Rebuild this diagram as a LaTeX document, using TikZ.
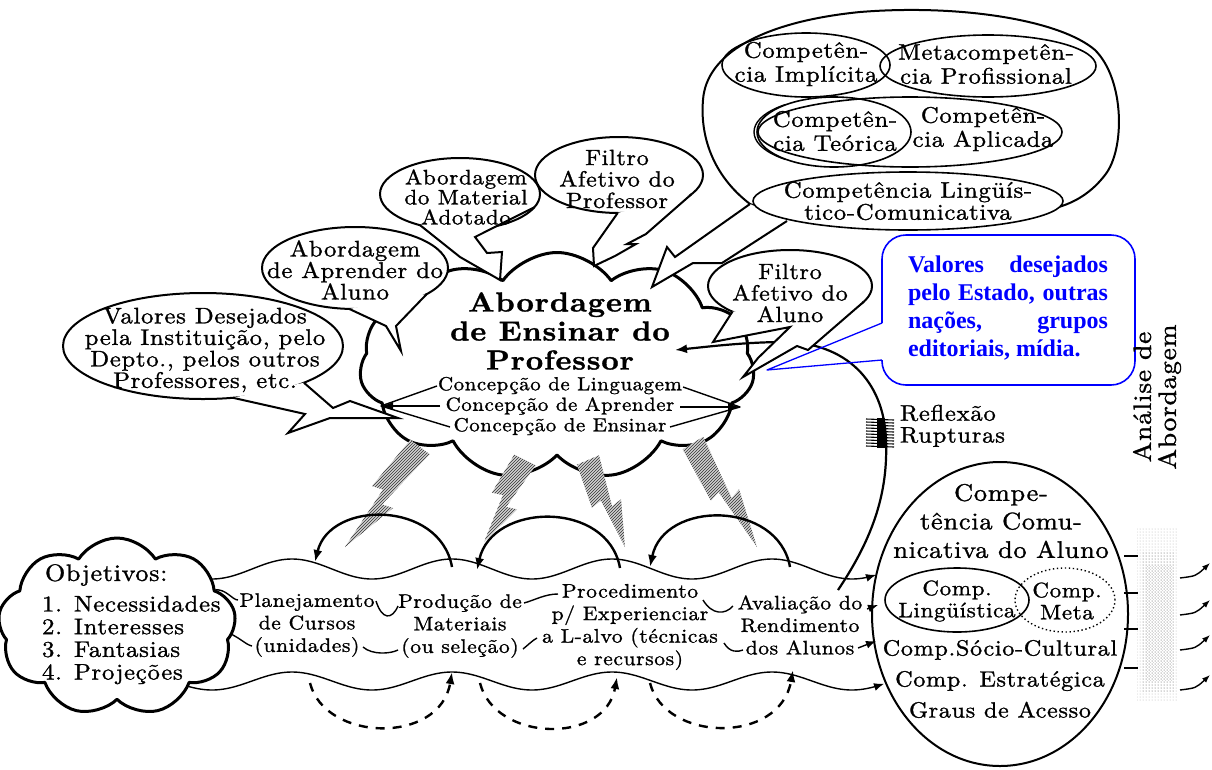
\documentclass[tikz,border=0pt]{standalone}
\usepackage{fontspec}
\newfontfamily\tnr{Liberation Serif}
\newfontfamily\lmw{lmroman10-regular.otf}[BoldFont=lmroman10-bold.otf, LetterSpace=3, FakeStretch=1.1, FakeBold=1.2]
\usetikzlibrary{shapes.symbols,shapes.geometric,patterns,calc,arrows.meta}
\newcommand\fsz[2]{\lmw\fontsize{#1}{#2}\selectfont}
\tikzset{
  every node/.style={inner sep=0pt, outer sep=0pt},
  bub/.style={ellipse, draw, line width=2pt, fill=white},
  inel/.style={ellipse, draw, line width=1.6pt},
  tl/.style={line width=2pt, line join=miter},
  txt/.style={align=center, font=\fsz{22}{21.5}},
  btxt/.style={align=center, font=\fsz{19.6}{22.5}},
  wave/.style={line width=1.4pt},
  solidarc/.style={line width=2.4pt, -{Latex[length=12pt,width=9pt]}},
  dasharc/.style={line width=2.4pt, dash pattern=on 9pt off 8pt, -{Latex[length=12pt,width=9pt]}},
  warr/.style={-{Latex[length=10pt,width=8pt]}},
  boltfill/.style={fill=gray!35},
  bolthatch/.style={pattern=north east lines, pattern color=black!80},
}
\newcommand\hbolt[2]{%
  \fill[boltfill] ($(#1)!12pt!90:(#2)$) -- ($(#1)!0.55!(#2)!4pt!90:(#2)$) -- ($(#1)!0.52!(#2)!15pt!90:(#2)$) -- (#2) -- ($(#1)!0.45!(#2)!4pt!-90:(#2)$) -- ($(#1)!0.48!(#2)!15pt!-90:(#2)$) -- ($(#1)!12pt!-90:(#2)$) -- cycle;
  \fill[bolthatch] ($(#1)!12pt!90:(#2)$) -- ($(#1)!0.55!(#2)!4pt!90:(#2)$) -- ($(#1)!0.52!(#2)!15pt!90:(#2)$) -- (#2) -- ($(#1)!0.45!(#2)!4pt!-90:(#2)$) -- ($(#1)!0.48!(#2)!15pt!-90:(#2)$) -- ($(#1)!12pt!-90:(#2)$) -- cycle;}
\begin{document}
\begin{tikzpicture}[x=1pt,y=-1pt,line join=round]
\useasboundingbox (0,0) rectangle (1212,769);

% ---------- right ellipse (communicative competence)
\node[ellipse, draw, line width=2pt, fill=white, minimum width=256, minimum height=304] (comp) at (1000,614) {};
\node[inel, minimum width=144, minimum height=64] (ling) at (957,600) {};
\node[ellipse, draw, line width=1.4pt, dash pattern=on 1.4pt off 2.6pt, minimum width=100, minimum height=64] (meta) at (1065,600) {};

% stippled bar and outgoing arrows
\fill[pattern=dots, pattern color=gray!60] (1137,527) rectangle (1178,700);
\fill[pattern=dots, pattern color=gray!90] (1141,552) rectangle (1175,692);
\fill[pattern=crosshatch dots, pattern color=gray!40] (1145,565) rectangle (1172,680);
\foreach \ya/\yb in {556/556,593/593,629/629,668/668}
  \draw[line width=1.2pt] (1124,\ya) -- (1138,\yb);
\foreach \ya/\yb in {578/563,615/600,650/635,690/675}
  \draw[line width=1.4pt, -{Latex[length=8pt,width=6pt]}] (1180,\ya) .. controls (1196,{\ya-2}) .. (1210,\yb);
\draw[line width=1.2pt] (1135,348) -- (1141,348);

% ---------- wavy band
\draw[wave, warr] plot[domain=150:876, samples=160, smooth] (\x,{569-10*cos(2.25*(\x-452))});
\draw[wave, warr] plot[domain=150:884, samples=160, smooth] (\x,{681-9*cos(2.25*(\x-452))});
% middle connectors
\draw[wave] (214,590) .. controls (226,588) and (232,600) .. (238,600);
\draw[wave] (376,601) .. controls (382,620) and (392,620) .. (398,606);
\draw[wave] (524,603) .. controls (535,600) and (545,594) .. (558,594);
\draw[wave] (703,600) .. controls (712,615) and (725,615) .. (733,606);
\draw[wave, warr] (867,609) -- (878,605);
\draw[wave] (226,632) .. controls (238,636) and (246,645) .. (252,646);
\draw[wave] (363,647) .. controls (372,655) and (390,654) .. (398,650);
\draw[wave] (523,649) .. controls (528,645) and (533,640) .. (537,638);
\draw[wave] (724,643) .. controls (730,653) and (738,652) .. (743,650);
\draw[wave, warr] (858,648) -- (876,641);

% ---------- main cloud
\node[cloud, cloud puffs=11, cloud puff arc=110, cloud ignores aspect, draw, line width=3pt, fill=white, minimum width=395, minimum height=227] (prof) at (557,366) {};

% hatched bolts from the cloud to the band
\coordinate (b1a) at (420,447); \coordinate (b1b) at (345,547);
\coordinate (b2a) at (525,460); \coordinate (b2b) at (484,542);
\coordinate (b3a) at (588,460); \coordinate (b3b) at (625,547);
\coordinate (b4a) at (693,443); \coordinate (b4b) at (757,547);
\hbolt{b1a}{b1b}\hbolt{b2a}{b2b}\hbolt{b3a}{b3b}\hbolt{b4a}{b4b}

% solid arcs above the band
\draw[solidarc] (452,567) .. controls (440,500) and (330,500) .. (315,562);
\draw[solidarc] (620,568) .. controls (608,500) and (492,502) .. (477,570);
\draw[solidarc] (790,567) .. controls (778,500) and (664,500) .. (650,567);
% dashed arcs below the band
\draw[dasharc] (310,683) .. controls (325,742) and (440,745) .. (452,672);
\draw[dasharc] (480,683) .. controls (495,742) and (605,745) .. (617,677);
\draw[dasharc] (650,683) .. controls (665,742) and (780,745) .. (793,670);

% ---------- objectives cloud
\node[cloud, cloud puffs=9, cloud puff arc=115, cloud ignores aspect, draw, line width=3pt, fill=white, minimum width=238, minimum height=178] (obj) at (117,627) {};

% ---------- feedback arc from evaluation back to the cloud
\draw[line width=2.2pt, -{Latex[length=12pt,width=9pt]}] (838,590) .. controls (875,535) and (888,490) .. (886,440) .. controls (884,380) and (845,343) .. (785,342) .. controls (745,342) and (705,347) .. (675,350);
\fill (877,418) rectangle (885,448);
\foreach \yy in {419,422,...,446} \draw[line width=1.1pt] (866,\yy) -- (894,{\yy+1});

% ---------- competence blob (top right)
\draw[line width=2pt, fill=white] (750,204) .. controls (712,175) and (700,135) .. (703,100) .. controls (706,55) and (760,22) .. (860,12) .. controls (960,4) and (1060,20) .. (1095,50) .. controls (1125,80) and (1125,150) .. (1105,175) .. controls (1092,192) and (1075,203) .. (1055,208) -- (900,222) -- (780,214) -- cycle;
\fill[white] (750,204) -- (675,257) -- (667,247) -- (652,287) -- (693,263) -- (722,263) -- (787,221) -- cycle;
\draw[tl] (750,204) -- (675,257) -- (667,247) -- (652,287) -- (693,263) -- (722,263) -- (787,221);
\node[inel, minimum width=168, minimum height=64] (imp) at (806,65) {};
\node[inel, minimum width=216, minimum height=62] (mtc) at (988,66) {};
\node[inel, minimum width=304, minimum height=70] (apl) at (910,132) {};
\node[inel, minimum width=154, minimum height=70] (teo) at (834,132) {};
\begin{scope}
  \clip (740,100) rectangle (785,165);
  \draw[line width=1.4pt] (831,132) ellipse [x radius=77, y radius=34];
\end{scope}
\node[inel, fill=white, minimum width=310, minimum height=58] (lco) at (908,201) {};

% ---------- callout bubbles
\node[bub, minimum width=280, minimum height=106] (V) at (203,346) {};
\fill[white] (V.340) -- (333,408) -- (350,401) -- (398,418) -- (330,418) -- (288,433) -- (305,414) -- (V.300) -- cycle;
\draw[tl] (V.340) -- (333,408) -- (350,401) -- (398,418) -- (330,418) -- (288,433) -- (305,414) -- (V.300);

\node[bub, minimum width=186, minimum height=82] (B) at (355,268) {};
\fill[white] (B.262) -- (386,326) -- (401,351) -- (396,326) -- (B.340) -- cycle;
\draw[tl] (B.262) -- (386,326) -- (401,351) -- (396,326) -- (B.340);

\node[bub, minimum width=160, minimum height=72] (M) at (460,194) {};
\fill[white] (M.350) -- (475,237) -- (487,253) -- (502,252) -- (500,280) -- (460,257) -- (M.218) -- cycle;
\draw[tl] (M.350) -- (475,237) -- (487,253) -- (502,252) -- (500,280) -- (460,257) -- (M.218);

\node[bub, minimum width=168, minimum height=76] (F) at (619,175) {};
\fill[white] (F.268) -- (593,248) -- (594,266) -- (615,256) -- (636,244) -- (627,244) -- (646,234) -- (F.345) -- cycle;
\draw[tl] (F.268) -- (593,248) -- (594,266) -- (615,256) -- (636,244) -- (627,244) -- (646,234) -- (F.345);

\node[bub, minimum width=164, minimum height=72] (G) at (790,286) {};
\fill[white] (G.204) -- (713,342) -- (790,327) -- (758,358) -- (743,377) -- (797,346) -- (808,350) -- (G.348) -- cycle;
\draw[tl] (G.204) -- (713,342) -- (790,327) -- (758,358) -- (743,377) -- (797,346) -- (808,350) -- (G.348);

% ---------- conception arrows inside the cloud
\draw[line width=1.4pt] (437,386) -- (381,406) -- (450,427);
\draw[line width=1.4pt, -{Latex[length=12pt,width=8pt]}] (440,406) -- (381,406);
\draw[line width=1.4pt] (683,387) -- (740,407) -- (670,427);
\draw[line width=1.4pt, -{Latex[length=12pt,width=8pt]}] (680,407) -- (740,407);

% ---------- blue callout box
\draw[blue, line width=1.6pt, rounded corners=24pt] (882,360) -- (882,385) -- (1135,385) -- (1135,235) -- (882,235) -- (882,323);
\draw[blue, line width=1.3pt] (882,323) -- (767,370) -- (882,360);
\node[text width=200pt, align=justify, font=\tnr\bfseries\fontsize{24}{28}\selectfont, text=blue] (tbox) at (1008,308) {Valores desejados\linebreak pelo Estado, outras\linebreak nações, grupos\linebreak editoriais, mídia.};

% ---------- texts
\node[txt, font=\fsz{22.5}{21.5}] (tV) at (205,350) {Valores Desejados\\pela Instituição, pelo\\Depto., pelos outros\\Professores, etc.};
\node[txt, font=\fsz{22.5}{21.5}] (tB) at (355,270) {Abordagem\\de Aprender do\\Aluno};
\node[align=center, font=\fsz{21}{20}] (tM) at (466,197) {Abordagem\\do Material\\Adotado};
\node[txt] (tF) at (617,179) {Filtro\\Afetivo do\\Professor};
\node[txt] (tG) at (790,293) {Filtro\\Afetivo do\\Aluno};

\node[align=center, font=\fsz{27.5}{29}\bfseries] (title) at (560,331) {Abordagem\\de Ensinar do\\Professor};
\node[align=center, font=\fsz{19}{20.5}] (conc) at (560,406) {Concepção de Linguagem\\Concepção de Aprender\\Concepção de Ensinar};

\node[align=center, font=\fsz{22.5}{24}] (timp) at (806,64) {Competên-\\cia Implícita};
\node[align=center, font=\fsz{22.5}{24}] (tmtc) at (986,64) {Metacompetên-\\cia Profissional};
\node[align=center, font=\fsz{22.5}{24}] (tteo) at (835,131) {Competên-\\cia Teórica};
\node[align=center, font=\fsz{22.5}{24}] (tapl) at (983,129) {Competên-\\cia Aplicada};
\node[align=center, font=\fsz{22.5}{22}] (tlco) at (908,201) {Competência Lingüís-\\tico-Comunicativa};

\node[align=center, font=\fsz{24}{28.5}] (tcc) at (1001,521) {Compe-\\tência Comu-\\nicativa do Aluno};
\node[align=center, font=\fsz{21}{22}] (tling) at (957,601) {Comp.\\Lingüística};
\node[align=center, font=\fsz{21}{22}] (tmeta) at (1067,601) {Comp.\\Meta};
\node[align=center, font=\fsz{22}{31}] (tsc) at (1000,679) {Comp.Sócio-Cultural\\Comp. Estratégica\\Graus de Acesso};

\node[btxt] (tpl) at (307,625) {Planejamento\\de Cursos\\(unidades)};
\node[btxt] (tpr) at (460,626) {Produção de\\Materiais\\(ou seleção)};
\node[btxt] (tpc) at (630,627) {Procedimento\\p/ Experienciar\\a L-alvo (técnicas\\e recursos)};
\node[btxt] (tav) at (800,625) {Avaliação do\\Rendimento\\dos Alunos};

\node[anchor=west, font=\fsz{23.7}{26}] (tobj) at (45,575) {Objetivos:};
\node[align=left, anchor=west, font=\fsz{22.6}{22.7}] (tobjl) at (42,640) {1. Necessidades\\2. Interesses\\3. Fantasias\\4. Projeções};

\node[anchor=west, font=\fsz{22.5}{24}] (tref) at (900,413) {Reflexão};
\node[anchor=west, font=\fsz{22.5}{24}] (trup) at (900,437) {Rupturas};
\node[rotate=90, align=center, font=\fsz{25}{25}] (tan) at (1157,397) {Análise de\\Abordagem};
\end{tikzpicture}
\end{document}
